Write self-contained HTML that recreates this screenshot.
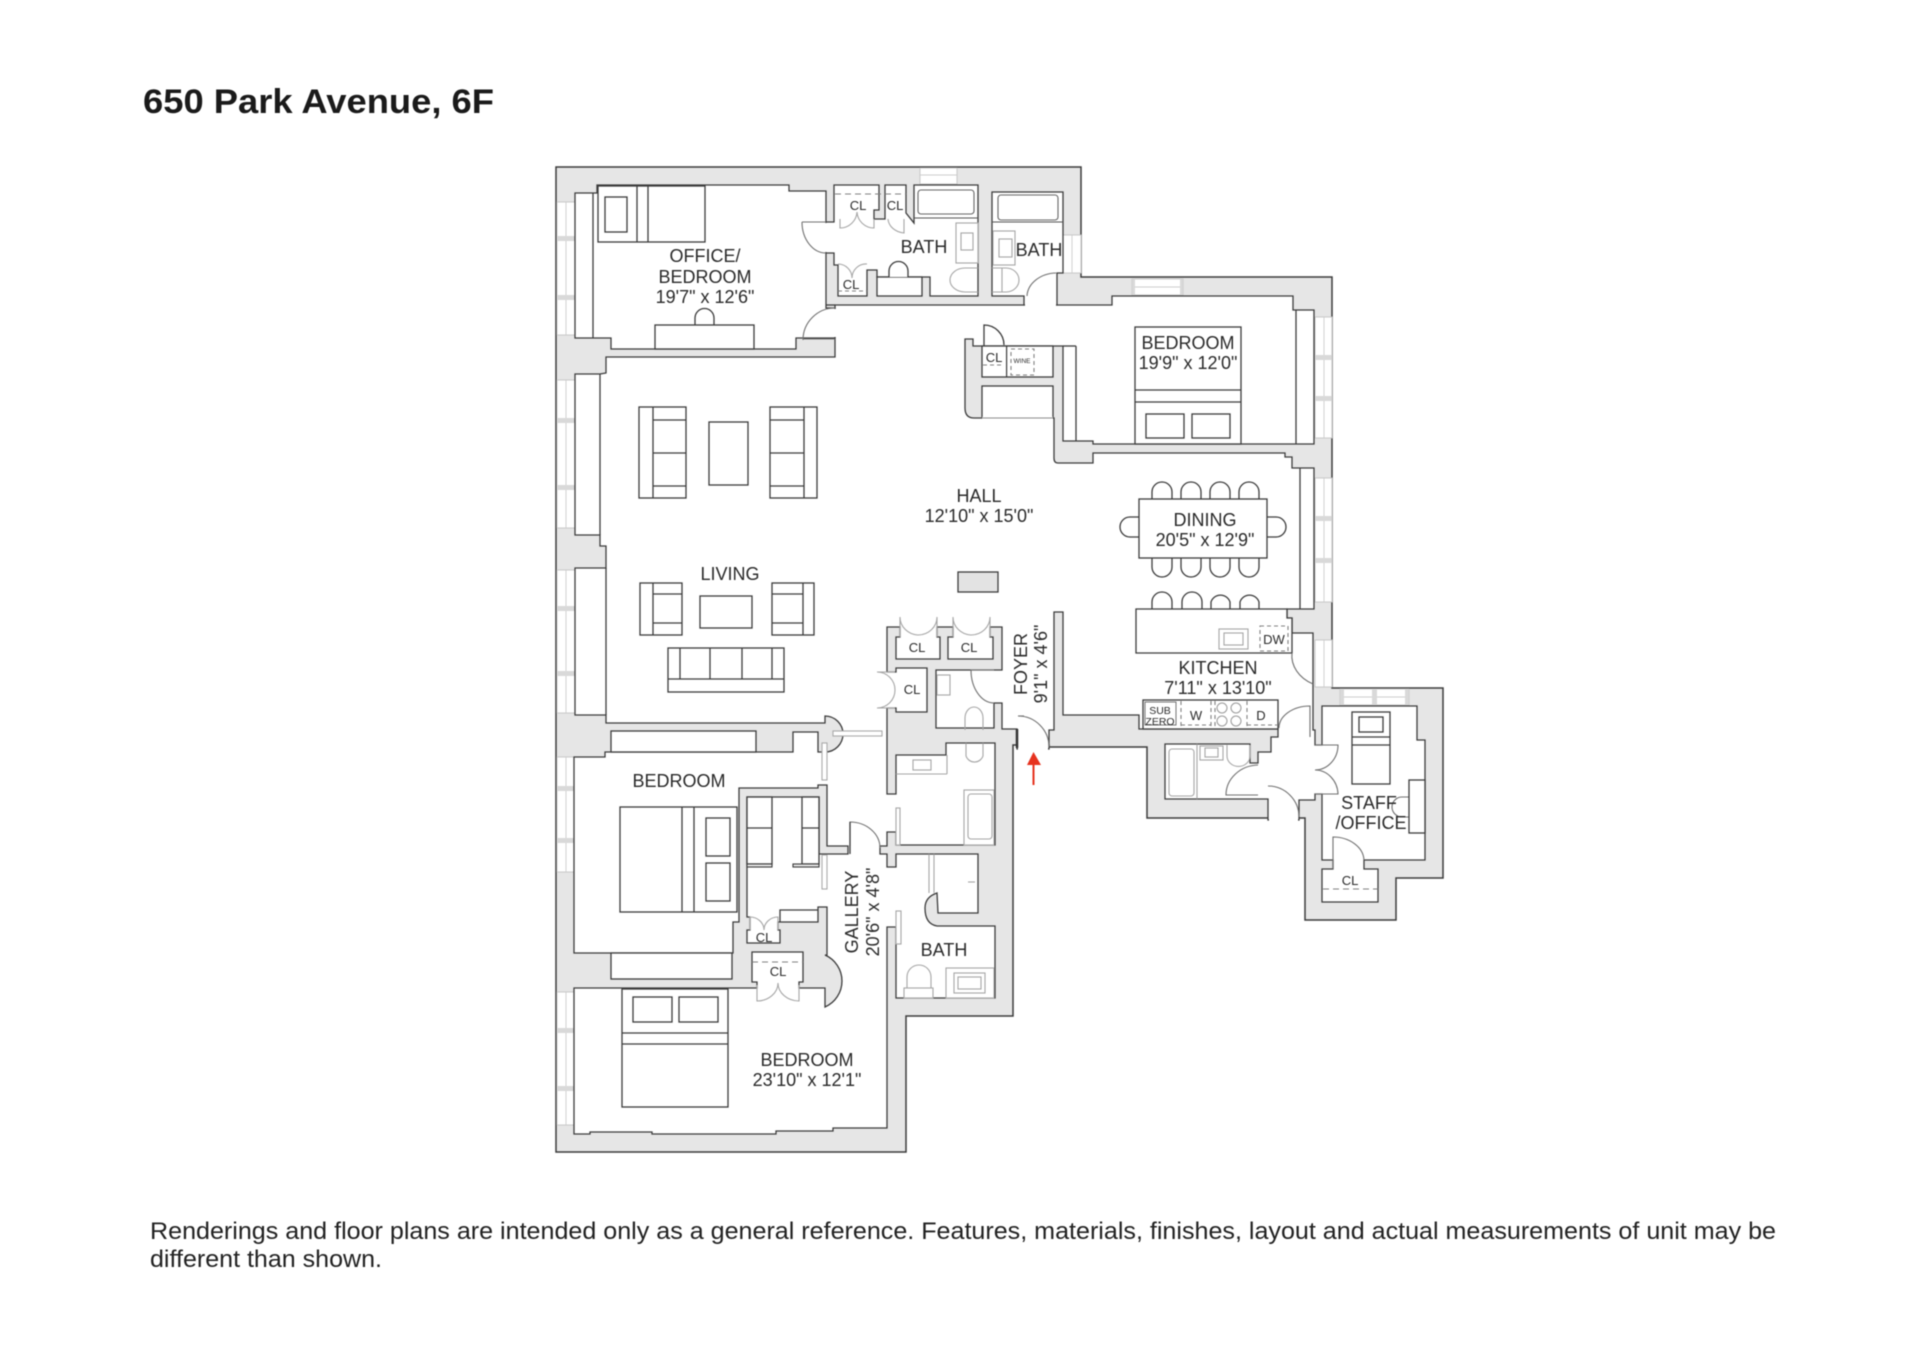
<!DOCTYPE html>
<html><head><meta charset="utf-8"><style>
html,body{margin:0;padding:0;background:#fff}
svg{display:block;filter:blur(.45px)}
text{font-family:"Liberation Sans",sans-serif;fill:#2a2a2a;text-anchor:middle}
.m{fill:none;stroke:#3c3c3c;stroke-width:1.3}
.f{fill:#fff;stroke:#3c3c3c;stroke-width:1.3}
.p{fill:none;stroke:#a6a6a6;stroke-width:1.1}
.pf{fill:#fff;stroke:#a6a6a6;stroke-width:1.1}
.d{fill:none;stroke:#808080;stroke-width:1.1;stroke-dasharray:6 4}
.e{fill:#fff;stroke:none}
.a{fill:none;stroke:#707070;stroke-width:1.1}
.win{fill:#fff;stroke:#c4c4c4;stroke-width:.9}
.mu{fill:#d9d9d9;stroke:none}
.wl{stroke:#cdcdcd;stroke-width:.9}
.l{font-size:18px}
.c{font-size:13px}
</style></head><body>
<svg xmlns="http://www.w3.org/2000/svg" width="1920" height="1357" viewBox="0 0 1920 1357">
<rect width="1920" height="1357" fill="#fff"/>
<text x="143" y="113" style="font-size:34px;font-weight:bold;text-anchor:start;fill:#1a1a1a" textLength="351" lengthAdjust="spacingAndGlyphs">650 Park Avenue, 6F</text>
<text x="150" y="1239" style="font-size:24px;text-anchor:start;fill:#222" textLength="1626" lengthAdjust="spacingAndGlyphs">Renderings and floor plans are intended only as a general reference. Features, materials, finishes, layout and actual measurements of unit may be</text>
<text x="150" y="1267" style="font-size:24px;text-anchor:start;fill:#222" textLength="232" lengthAdjust="spacingAndGlyphs">different than shown.</text>

<!-- outer shell -->
<path d="M556,167H1081V277H1332V688H1443V878H1396V920H1305V818H1147V747H1049V745H1013V1016H906V1152H556Z" fill="#e6e6e6" stroke="#3c3c3c" stroke-width="1.5"/>

<!-- windows -->
<g>
<rect class="win" x="557" y="202" width="18" height="133"/><line class="wl" x1="566" y1="202" x2="566" y2="335"/><rect class="mu" x="557" y="236" width="18" height="5"/><rect class="mu" x="557" y="295" width="18" height="5"/>
<rect class="win" x="557" y="380" width="18" height="148"/><line class="wl" x1="566" y1="380" x2="566" y2="528"/><rect class="mu" x="557" y="418" width="18" height="5"/><rect class="mu" x="557" y="485" width="18" height="5"/>
<rect class="win" x="557" y="570" width="18" height="143"/><line class="wl" x1="566" y1="570" x2="566" y2="713"/><rect class="mu" x="557" y="606" width="18" height="5"/><rect class="mu" x="557" y="671" width="18" height="5"/>
<rect class="win" x="557" y="757" width="18" height="115"/><line class="wl" x1="566" y1="757" x2="566" y2="872"/><rect class="mu" x="557" y="786" width="18" height="5"/><rect class="mu" x="557" y="838" width="18" height="5"/>
<rect class="win" x="557" y="992" width="18" height="133"/><line class="wl" x1="566" y1="992" x2="566" y2="1125"/><rect class="mu" x="557" y="1028" width="18" height="5"/><rect class="mu" x="557" y="1086" width="18" height="5"/>
<rect class="win" x="1315" y="317" width="17" height="121"/><line class="wl" x1="1324" y1="317" x2="1324" y2="438"/><rect class="mu" x="1315" y="355" width="17" height="5"/><rect class="mu" x="1315" y="396" width="17" height="5"/>
<rect class="win" x="1315" y="478" width="17" height="124"/><line class="wl" x1="1324" y1="478" x2="1324" y2="602"/><rect class="mu" x="1315" y="516" width="17" height="5"/><rect class="mu" x="1315" y="558" width="17" height="5"/>
<rect class="win" x="1315" y="640" width="17" height="47"/><line class="wl" x1="1324" y1="640" x2="1324" y2="687"/>
<rect class="win" x="1132" y="279" width="51" height="16"/><line class="wl" x1="1132" y1="287" x2="1183" y2="287"/><rect class="mu" x="1132" y="279" width="3" height="16"/><rect class="mu" x="1180" y="279" width="3" height="16"/>
<rect class="win" x="920" y="168" width="37" height="16"/><line class="wl" x1="920" y1="175" x2="957" y2="175"/>
<rect class="win" x="1063" y="235" width="18" height="38"/><line class="wl" x1="1072" y1="235" x2="1072" y2="273"/>
<rect class="win" x="1340" y="689" width="69" height="16"/><line class="wl" x1="1340" y1="697" x2="1409" y2="697"/><rect class="mu" x="1340" y="689" width="4" height="16"/><rect class="mu" x="1372" y="689" width="5" height="16"/><rect class="mu" x="1405" y="689" width="4" height="16"/>
</g>

<!-- main floor area -->
<path class="f" d="M606,357V373L600,374H575V535H600V546H606V568H575V715H606V723H825V716A18,18 0 0 1 825,752H818V732H793V752H605V757H574V953H733V922H739V788H818V785H827V846H848V854H819V797H747V917H750V930H747V943H780V930H778V922H818V907H827V955H825A28.4,28.4 0 0 1 825,1007V988H799V982H803V952H752V982H757V988H574V1134H590V1132H652V1134H776V1131H833V1128H887V927H896V998H995V926H937Q925,924 925,908Q925,897 937,893L938,913H978V854H896V867H887V854H880V846H887V832H896V845H995V743H946V755H896V794H887V708H896V712H927V668H896V672H887V627H900V637H896V659H940V637H937V627H953V637H948V659H993V637H990V627H1002V670H994H936V728H994V703H1002V729H1017V749H1049V730H1054V612H1063V715H1139V729H1278V737H1271V752H1258V763H1250V744H1165V799H1268V820H1299V800H1315V794H1322V860H1333V869H1322V902H1378V869H1364V860H1425V740H1417V706H1322V745H1315V730H1313V633H1292V618H1287V609H1314V468H1292V457H1285V453H1093V463H1058Q1054,463 1054,458V418H974Q965,418 965,408V339H973V346H1063V441H1093V444H1314V310H1293V296H1112V305H835V357Z"/>

<!-- office -->
<path class="f" d="M597,185H789V191H826V308H835V338H796V349H611V338H575V193H597Z"/>
<!-- bath 1 -->
<path class="f" d="M826,222L834,222V210V185H879V210H874V219H885V185H906V213L914,223V185H978V296H930V277H877V270H867V296H838V265H834V253H826Z"/>
<!-- bath 2 -->
<path class="f" d="M992,192H1063V273H1057V305H1024V296H992Z"/>
<!-- gaps -->
<rect class="e" x="824" y="223" width="12" height="29"/>
<rect class="e" x="826" y="309" width="11" height="28"/>
<rect class="e" x="1025" y="294" width="31" height="13"/>
<rect class="e" x="1018" y="744" width="30" height="8"/>
<rect class="e" x="1269" y="815" width="29" height="7"/>
<line x1="1017" y1="729" x2="1017" y2="748" stroke="#333" stroke-width="2.5"/>
<!-- wall between office door and hall -->
<path class="m" d="M826,305H835"/>

<!-- hall closet block -->
<rect class="f" x="982" y="346" width="71" height="31"/>
<rect class="f" x="982" y="386" width="71" height="32"/>
<line x1="982" y1="418" x2="1053" y2="418" stroke="#fff" stroke-width="2"/><line x1="982" y1="418" x2="1053" y2="418" stroke="#8c8c8c" stroke-width="1.1"/>
<rect x="1006" y="346" width="1.2" height="31" fill="#3c3c3c"/>
<line class="m" x1="1063" y1="346" x2="1076" y2="346"/>
<line class="m" x1="1076" y1="346" x2="1076" y2="441"/>
<rect class="d" x="1011" y="349" width="23" height="26" style="stroke-dasharray:4 3"/>
<line class="d" x1="983" y1="365" x2="1004" y2="365" style="stroke-dasharray:4 3"/>
<path class="m" d="M984,346V325A20,20 0 0 1 1004,345"/>

<!-- recess lines -->
<line class="m" x1="600" y1="374" x2="600" y2="535"/>
<line class="m" x1="606" y1="568" x2="606" y2="715"/>
<line class="m" x1="593" y1="193" x2="593" y2="338"/>
<line class="m" x1="1296" y1="310" x2="1296" y2="444"/>
<line class="m" x1="1300" y1="468" x2="1300" y2="609"/>
<rect class="f" x="611" y="731" width="145" height="21"/>
<rect class="f" x="611" y="953" width="121" height="26"/>

<!-- office furniture -->
<rect class="f" x="598" y="186" width="107" height="56"/>
<line class="m" x1="637" y1="186" x2="637" y2="242"/><line class="m" x1="648" y1="186" x2="648" y2="242"/>
<rect class="f" x="605" y="197" width="22" height="35"/>
<path class="f" d="M695,325V318A9.500,9.500 0 0 1 714,318V325"/>
<rect class="f" x="655" y="325" width="99" height="24"/>
<path class="a" d="M802,222A24,31 0 0 0 826,253M802,222H826"/>
<path class="a" d="M803,340A32,32 0 0 1 835,308M803,339H835" />

<!-- bath 1 fixtures -->
<line class="d" x1="835" y1="194" x2="906" y2="194"/>
<path class="p" d="M840,219V228A17,17 0 0 0 857,212A17,17 0 0 0 874,228V219"/>
<path class="p" d="M888,219A18,15 0 0 0 904,233V219"/>
<path class="p" d="M838,264A14,14 0 0 1 852,278A14,14 0 0 1 867,264"/>
<line class="d" x1="838" y1="291" x2="867" y2="291" style="stroke-dasharray:4 3"/>
<rect class="f" x="877" y="277" width="45" height="19"/>
<path class="f" d="M889,277V271A9.500,9.500 0 0 1 908,271V277"/>
<line x1="914" y1="218" x2="978" y2="218" stroke="#555" stroke-width="1.1"/>
<rect x="918" y="190" width="56" height="24" rx="3" fill="#fff" stroke="#666" stroke-width="1.1"/>
<rect class="pf" x="956" y="223" width="22" height="40"/>
<rect class="pf" x="961" y="233" width="12" height="17"/>
<path class="p" d="M978,268H965A15,12 0 0 0 965,292H978"/>
<!-- bath 2 fixtures -->
<line x1="992" y1="222" x2="1063" y2="222" stroke="#555" stroke-width="1.1"/>
<rect x="998" y="195" width="60" height="25" rx="3" fill="#fff" stroke="#666" stroke-width="1.1"/>
<rect class="pf" x="993" y="231" width="22" height="34"/>
<rect class="pf" x="999" y="239" width="13" height="18"/>
<path class="p" d="M992,268H1006A13,12 0 0 1 1006,292H992M1002,268V292"/>
<path class="a" d="M1027,296A30,24 0 0 1 1056,273"/>

<!-- living furniture -->
<g>
<rect class="f" x="639" y="407" width="47" height="91"/><line class="m" x1="653" y1="407" x2="653" y2="498"/><path class="m" d="M653,420H686M653,453H686M653,486H686"/>
<rect class="f" x="709" y="422" width="39" height="63"/>
<rect class="f" x="770" y="407" width="47" height="91"/><line class="m" x1="804" y1="407" x2="804" y2="498"/><path class="m" d="M770,420H804M770,453H804M770,486H804"/>
<rect class="f" x="640" y="583" width="42" height="52"/><line class="m" x1="653" y1="583" x2="653" y2="635"/><path class="m" d="M653,594H682M653,623H682"/>
<rect class="f" x="700" y="596" width="52" height="32"/>
<rect class="f" x="772" y="583" width="42" height="52"/><line class="m" x1="803" y1="583" x2="803" y2="635"/><path class="m" d="M772,594H803M772,623H803"/>
<rect class="f" x="668" y="648" width="116" height="44"/><path class="m" d="M668,679H784M680,648V679M710,648V679M742,648V679M772,648V679"/>
<rect x="958" y="572" width="40" height="20" fill="#e3e3e3" stroke="#3c3c3c" stroke-width="1.3"/>
</g>

<!-- bedroom NE -->
<rect class="f" x="1135" y="327" width="106" height="117"/>
<path class="m" d="M1135,390H1241M1135,402H1241"/>
<rect class="f" x="1146" y="414" width="38" height="24"/><rect class="f" x="1192" y="414" width="38" height="24"/>

<!-- dining -->
<g class="f">
<path d="M1152,499V492A10,10 0 0 1 1172,492V499M1181,499V492A10,10 0 0 1 1201,492V499M1210,499V492A10,10 0 0 1 1230,492V499M1239,499V492A10,10 0 0 1 1259,492V499"/>
<path d="M1152,558V567A10,10 0 0 0 1172,567V558M1181,558V567A10,10 0 0 0 1201,567V558M1210,558V567A10,10 0 0 0 1230,567V558M1239,558V567A10,10 0 0 0 1259,567V558"/>
<path d="M1139,517H1130A10,10 0 0 0 1130,537H1139M1267,517H1276A10,10 0 0 1 1276,537H1267"/>
<path d="M1152,609V602A10,10 0 0 1 1172,602V609M1182,609V602A10,10 0 0 1 1202,602V609M1211,609V602A10,10 0 0 1 1230,602V609M1240,609V602A10,10 0 0 1 1259,602V609"/>
<rect x="1139" y="499" width="128" height="59"/>
</g>

<!-- kitchen -->
<path class="f" d="M1136,609H1287V618H1292V633V653H1136Z"/>
<rect class="pf" x="1219" y="629" width="29" height="20"/><rect class="pf" x="1224" y="633" width="19" height="12"/>
<rect class="d" x="1260" y="626" width="28" height="25" style="stroke-dasharray:4 3"/>
<path class="a" d="M1292,653A40,32 0 0 0 1313,684"/>
<rect class="f" x="1143" y="700" width="135" height="29"/>
<rect x="1145" y="702" width="31" height="23" fill="none" stroke="#666" stroke-width=".9"/>
<path class="d" d="M1181,701V726M1211,701V726M1215,701V726M1247,701V726M1181,725H1211M1247,725H1277" style="stroke-dasharray:4 3"/>
<g fill="none" stroke="#999" stroke-width="1"><circle cx="1222" cy="708" r="5"/><circle cx="1236" cy="708" r="5"/><circle cx="1222" cy="721" r="5"/><circle cx="1236" cy="721" r="5"/></g>
<path class="a" d="M1279,728A31,22 0 0 1 1310,706V737"/>

<!-- maid bath -->
<rect class="pf" x="1169" y="749" width="25" height="47" rx="3"/>
<line class="p" x1="1197" y1="744" x2="1197" y2="799"/>
<rect class="pf" x="1200" y="746" width="23" height="14"/><rect class="pf" x="1205" y="748" width="13" height="9"/>
<path class="p" d="M1227,745V756A11,10 0 0 0 1250,756V745"/>
<path class="a" d="M1258,765A33,30 0 0 0 1226,795H1258"/>
<path class="a" d="M1268,786A31,31 0 0 1 1299,817"/>
<path class="a" d="M1315,745H1338A23,25 0 0 1 1315,770A23,25 0 0 1 1338,794H1315"/>

<!-- staff -->
<rect class="f" x="1352" y="712" width="38" height="72"/>
<path class="m" d="M1352,737H1390M1352,745H1390"/>
<rect class="f" x="1359" y="717" width="24" height="15"/>
<path class="a" d="M1409,797H1402A10,10 0 0 0 1402,817H1409"/>
<rect class="f" x="1409" y="780" width="16" height="53"/>
<path class="a" d="M1333,869V837A31,24 0 0 1 1364,860"/>
<line class="d" x1="1323" y1="889" x2="1378" y2="889"/>

<!-- closets near foyer -->
<path class="p" d="M900,637V617A19,18 0 0 0 918,635A19,18 0 0 0 937,617V637"/>
<path class="p" d="M953,637V617A19,18 0 0 0 971,635A19,18 0 0 0 990,617V637"/>
<path class="p" d="M895,672H877A18,18 0 0 1 895,690A18,18 0 0 1 877,708H895"/>
<!-- powder -->
<rect class="pf" x="937" y="675" width="13" height="20"/>
<path class="p" d="M965,730V718A9,11 0 0 1 983,718V730"/>
<path class="a" d="M994,670H971A23,33 0 0 0 994,703"/>
<!-- main bath -->
<line class="p" x1="896" y1="774" x2="947" y2="774"/><line class="p" x1="947" y1="755" x2="947" y2="774"/>
<rect class="pf" x="913" y="760" width="18" height="10"/>
<path class="p" d="M966,743V756A9,9 0 0 0 983,756V743"/>
<rect class="pf" x="964" y="790" width="30" height="55"/>
<rect class="pf" x="968" y="794" width="24" height="45" rx="3"/>
<rect class="pf" x="896" y="808" width="4" height="37"/>
<rect class="pf" x="896" y="911" width="5" height="33"/>
<path class="p" d="M929,854V893M934,854V893"/>
<path class="p" d="M968,882h7"/>
<!-- bath 3 -->
<rect class="pf" x="946" y="968" width="48" height="30"/>
<rect class="pf" x="954" y="973" width="31" height="20"/><rect class="pf" x="958" y="977" width="23" height="12"/>
<path class="p" d="M907,988V977A12,12 0 0 1 931,977V988"/>
<rect class="pf" x="904" y="988" width="29" height="10"/>

<!-- entry door / hall door -->
<path class="a" d="M1018,716A31,31 0 0 1 1049,747"/>
<path class="a" d="M1018,716H1024"/>
<rect class="pf" x="833" y="731" width="49" height="5" style="stroke:#aaa"/>
<rect class="pf" x="822" y="743" width="5" height="37" style="stroke:#aaa"/>
<rect class="pf" x="822" y="855" width="5" height="34" style="stroke:#aaa"/>
<path class="a" d="M850,846V822A30,26 0 0 1 880,848"/>
<line x1="850" y1="822" x2="850" y2="854" stroke="#3c3c3c" stroke-width="1.3"/>

<!-- dressing -->
<rect class="f" x="747" y="797" width="25" height="67"/><line class="m" x1="747" y1="828" x2="772" y2="828"/>
<rect class="f" x="802" y="797" width="17" height="67"/><line class="m" x1="802" y1="828" x2="819" y2="828"/>
<rect fill="#e6e6e6" stroke="#3c3c3c" stroke-width="1.1" x="747" y="864" width="25" height="3"/>
<rect fill="#e6e6e6" stroke="#3c3c3c" stroke-width="1.1" x="793" y="864" width="26" height="3"/>
<path class="m" d="M780,922V910H818"/>
<path class="p" d="M750,930V917A14,13 0 0 1 764,930A14,13 0 0 1 778,917V930"/>
<line class="d" x1="752" y1="962" x2="803" y2="962"/>
<path class="p" d="M757,985V1001A21,18 0 0 0 778,983A21,18 0 0 0 799,1001V985"/>

<!-- bedrooms -->
<rect class="f" x="620" y="807" width="117" height="105"/>
<path class="m" d="M682,807V912M694,807V912"/>
<rect class="f" x="706" y="818" width="24" height="38"/><rect class="f" x="706" y="863" width="24" height="38"/>
<rect class="f" x="622" y="989" width="106" height="118"/>
<path class="m" d="M622,1033H728M622,1044H728"/>
<rect class="f" x="633" y="997" width="39" height="25"/><rect class="f" x="679" y="997" width="39" height="25"/>

<!-- arrow -->
<path d="M1027,765H1041L1033.500,752Z" fill="#e6321e"/>
<line x1="1033.500" y1="764" x2="1033.500" y2="785" stroke="#e6321e" stroke-width="2"/>

<!-- labels -->
<text class="l" x="705" y="262">OFFICE/</text>
<text class="l" x="705" y="283">BEDROOM</text>
<text class="l" x="705" y="303">19'7" x 12'6"</text>
<text class="l" x="924" y="253">BATH</text>
<text class="l" x="1039" y="256">BATH</text>
<text class="c" x="858" y="210">CL</text>
<text class="c" x="895" y="210">CL</text>
<text class="c" x="851" y="289">CL</text>
<text class="c" x="994" y="362">CL</text>
<text x="1022" y="363" style="font-size:6.500px">WINE</text>
<text class="l" x="1188" y="349">BEDROOM</text>
<text class="l" x="1188" y="369">19'9" x 12'0"</text>
<text class="l" x="979" y="502">HALL</text>
<text class="l" x="979" y="522">12'10" x 15'0"</text>
<text class="l" x="730" y="580">LIVING</text>
<text class="l" x="1205" y="526">DINING</text>
<text class="l" x="1205" y="546">20'5" x 12'9"</text>
<text class="c" x="917" y="652">CL</text>
<text class="c" x="969" y="652">CL</text>
<text class="c" x="912" y="694">CL</text>
<text class="l" transform="translate(1027,664) rotate(-90)">FOYER</text>
<text class="l" transform="translate(1047,664) rotate(-90)">9'1" x 4'6"</text>
<text class="l" x="1218" y="674">KITCHEN</text>
<text class="l" x="1218" y="694">7'11" x 13'10"</text>
<text x="1160" y="714" style="font-size:10.500px">SUB</text>
<text x="1160" y="725" style="font-size:10.500px">ZERO</text>
<text class="c" x="1196" y="720">W</text>
<text class="c" x="1261" y="720">D</text>
<text class="c" x="1274" y="644">DW</text>
<text class="l" x="1369" y="809">STAFF</text>
<text class="l" x="1371" y="829">/OFFICE</text>
<text class="c" x="1350" y="885">CL</text>
<text class="l" x="679" y="787">BEDROOM</text>
<text class="l" transform="translate(858,912) rotate(-90)">GALLERY</text>
<text class="l" transform="translate(879,912) rotate(-90)">20'6" x 4'8"</text>
<text class="l" x="944" y="956">BATH</text>
<text class="c" x="764" y="942">CL</text>
<text class="c" x="778" y="976">CL</text>
<text class="l" x="807" y="1066">BEDROOM</text>
<text class="l" x="807" y="1086">23'10" x 12'1"</text>
</svg>
</body></html>
